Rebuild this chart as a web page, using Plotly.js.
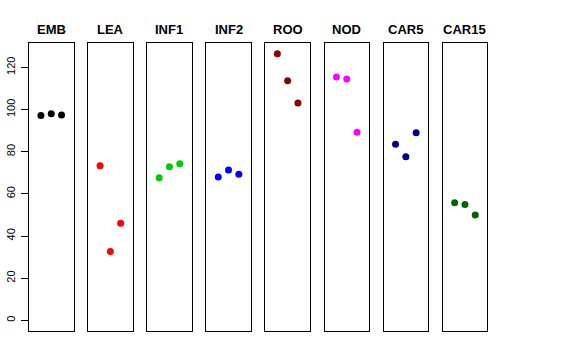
<!DOCTYPE html>
<html><head><meta charset="utf-8">
<script src="https://cdn.plot.ly/plotly-3.0.1.min.js"></script>
<style>html,body{margin:0;padding:0;background:#fff}</style>
</head><body><div id="chart" style="width:576px;height:360px"></div>
<script>
const categories = ["EMB","LEA","INF1","INF2","ROO","NOD","CAR5","CAR15"];
const positions = [1,2,3];
const EMB = [97.2, 98.0, 97.4];
const LEA = [73.3, 32.7, 46.0];
const INF1 = [67.6, 72.9, 74.3];
const INF2 = [68.0, 71.3, 69.3];
const ROO = [126.5, 113.7, 103.1];
const NOD = [115.4, 114.5, 89.2];
const CAR5 = [83.5, 77.6, 89.0];
const CAR15 = [55.8, 54.9, 50.0];
const seriesValues = [EMB, LEA, INF1, INF2, ROO, NOD, CAR5, CAR15];
const colors = ["#000000","#FF0000","#00CD00","#0000FF","#8B0000","#FF00FF","#00008B","#006400"];
const yTicks = [0,20,40,60,80,100,120];

const W = 576, H = 360;
const left0 = 29, step = 59.1, pw = 44.5, panelTop = 43, panelBottom = 331;
const traces = [], layout = {
  width: W, height: H, margin: {l:0,r:0,t:0,b:0},
  paper_bgcolor: '#fff', plot_bgcolor: '#fff', showlegend: false,
  font: {family: 'Liberation Sans, Arial, sans-serif', color: '#000'},
  annotations: []
};
categories.forEach((c, i) => {
  const ax = i === 0 ? '' : String(i + 1);
  traces.push({
    type: 'scatter', mode: 'markers', x: positions, y: seriesValues[i],
    xaxis: 'x' + ax, yaxis: 'y' + ax,
    marker: {color: colors[i], size: 7}, hoverinfo: 'skip'
  });
  const x0 = (left0 + step * i) / W, x1 = (left0 + step * i + pw) / W;
  layout['xaxis' + ax] = {
    domain: [x0, x1], range: [-0.16, 4.16], showgrid: false, zeroline: false,
    showticklabels: false, ticks: '', showline: true, mirror: true,
    linecolor: '#000', linewidth: 1, anchor: 'y' + ax, fixedrange: true
  };
  layout['yaxis' + ax] = {
    domain: [1 - panelBottom / H, 1 - panelTop / H], range: [-5.06, 131.56],
    showgrid: false, zeroline: false, showline: true, mirror: true,
    linecolor: '#000', linewidth: 1, anchor: 'x' + ax, fixedrange: true,
    showticklabels: i === 0, ticks: i === 0 ? 'outside' : '',
    tickvals: yTicks, ticktext: yTicks.map(String), ticklen: 7, tickcolor: '#000',
    tickangle: -90, tickfont: {size: 11, color: '#000'}, ticklabelstandoff: 2
  };
  layout.annotations.push({
    text: '<b>' + c + '</b>', xref: 'paper', yref: 'paper',
    x: (x0 + x1) / 2, y: 1 - 29 / H, xanchor: 'center', yanchor: 'middle',
    showarrow: false, font: {size: 13, color: '#000'}
  });
});
Plotly.newPlot('chart', traces, layout, {staticPlot: true});
</script></body></html>
